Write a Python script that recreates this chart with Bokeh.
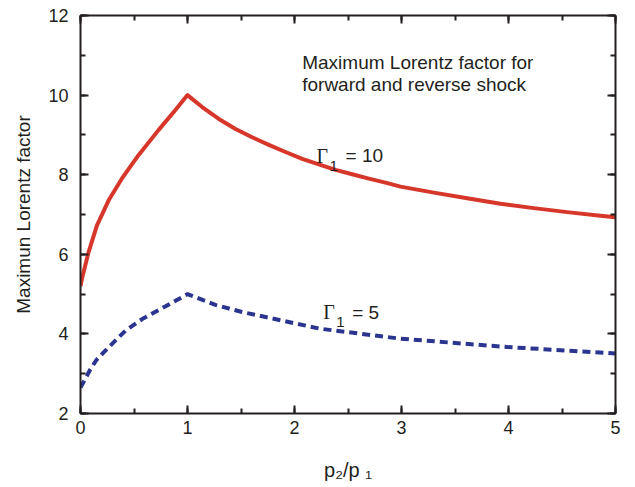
from bokeh.plotting import figure
from bokeh.models import LinearAxis, SingleIntervalTicker, Label, Range1d, Grid
from bokeh.embed import file_html
from bokeh.resources import INLINE

# ---- data ----
red_x = [0.0, 0.013, 0.075, 0.153, 0.262, 0.386, 0.542, 0.729, 0.885, 1.0,
         1.137, 1.293, 1.449, 1.604, 1.760, 1.916, 2.072, 2.227, 2.383, 2.539,
         2.695, 2.850, 2.991, 3.302, 3.614, 3.925, 4.237, 4.548, 4.86, 5.0]
red_y = [5.2, 5.38, 6.05, 6.72, 7.35, 7.90, 8.49, 9.12, 9.62, 10.0,
         9.70, 9.40, 9.15, 8.94, 8.75, 8.57, 8.40, 8.26, 8.12, 8.01,
         7.90, 7.80, 7.70, 7.55, 7.41, 7.27, 7.16, 7.06, 6.97, 6.93]

blue_x = [0.0, 0.09, 0.15, 0.265, 0.42, 0.58, 0.8, 1.0, 1.26, 1.51, 2.24, 2.99, 3.99, 5.0]
blue_y = [2.65, 3.1, 3.35, 3.67, 4.08, 4.38, 4.70, 5.0, 4.73, 4.55, 4.13, 3.88, 3.67, 3.51]

x_limits = (0, 5)
y_limits = (2, 12)

x_title = "p\u2082/p \u2081"
y_title = "Maximun Lorentz factor"
note_lines = ["Maximum Lorentz  factor for", "forward and reverse shock"]
series_labels = ["10", "5"]

INK = "#231f20"
RED = "#d7372a"
BLUE = "#2b3590"
SANS = "Liberation Sans"
SERIF = "Liberation Serif"

p = figure(width=635, height=487, output_backend="svg", toolbar_location=None,
           x_range=Range1d(*x_limits), y_range=Range1d(*y_limits),
           x_axis_location=None, y_axis_location=None,
           min_border_left=80, min_border_right=20, min_border_top=15,
           min_border_bottom=74)
p.outline_line_color = None
p.background_fill_color = "white"
p.border_fill_color = "white"
for g in p.select(type=Grid):
    g.visible = False


def style_axis(ax, labels=True):
    ax.axis_line_color = INK
    ax.axis_line_width = 2
    ax.major_tick_line_color = INK
    ax.major_tick_line_width = 2
    ax.minor_tick_line_color = INK
    ax.minor_tick_line_width = 2
    ax.major_tick_in = 8
    ax.major_tick_out = 0
    ax.minor_tick_in = 5
    ax.minor_tick_out = 0
    if labels:
        ax.major_label_text_font = SANS
        ax.major_label_text_font_size = "18px"
        ax.major_label_text_color = INK
    else:
        ax.major_label_text_font_size = "1px"
        ax.major_label_standoff = 0


xticker = SingleIntervalTicker(interval=1, num_minor_ticks=2)
yticker = SingleIntervalTicker(interval=2, num_minor_ticks=2)

xb = LinearAxis(ticker=xticker)
style_axis(xb)
xb.major_label_standoff = 7
xb.axis_label = x_title
xb.axis_label_text_font = SANS
xb.axis_label_text_font_size = "20px"
xb.axis_label_text_font_style = "normal"
xb.axis_label_text_color = INK
xb.axis_label_standoff = 22
p.add_layout(xb, "below")

xt = LinearAxis(ticker=xticker)
style_axis(xt, labels=False)
xt.major_label_overrides = {i: "" for i in range(0, 6)}
p.add_layout(xt, "above")

yl = LinearAxis(ticker=yticker)
style_axis(yl)
yl.major_label_standoff = 12
yl.axis_label = y_title
yl.axis_label_text_font = SANS
yl.axis_label_text_font_size = "19px"
yl.axis_label_text_font_style = "normal"
yl.axis_label_text_color = INK
yl.axis_label_standoff = 11
p.add_layout(yl, "left")

yr = LinearAxis(ticker=yticker)
style_axis(yr, labels=False)
yr.major_label_overrides = {i: "" for i in range(2, 13, 2)}
p.add_layout(yr, "right")

p.line(red_x, red_y, line_color=RED, line_width=4, line_join="round")
p.line(blue_x, blue_y, line_color=BLUE, line_width=4, line_dash="8 5")


def lab(text, x, y, size, font=SANS, xo=0, yo=0):
    p.add_layout(Label(x=x, y=y, x_offset=xo, y_offset=yo, text=text,
                       text_font=font, text_font_size=size, text_color=INK,
                       text_align="left", text_baseline="alphabetic"))


# annotation
lab(note_lines[0], 2.072, 10.83, "19px")
lab(note_lines[1], 2.072, 10.27, "19px")

# Gamma_1 = 10
lab("\u0393", 2.206, 8.48, "20px", font=SERIF)
lab("1", 2.206, 8.48, "15px", xo=13, yo=-10)
lab("= " + series_labels[0], 2.206, 8.48, "19px", xo=29)

# Gamma_1 = 5
lab("\u0393", 2.268, 4.545, "20px", font=SERIF)
lab("1", 2.268, 4.545, "15px", xo=13, yo=-10)
lab("= " + series_labels[1], 2.268, 4.545, "19px", xo=29)

open("out.html", "w").write(file_html(p, INLINE))
